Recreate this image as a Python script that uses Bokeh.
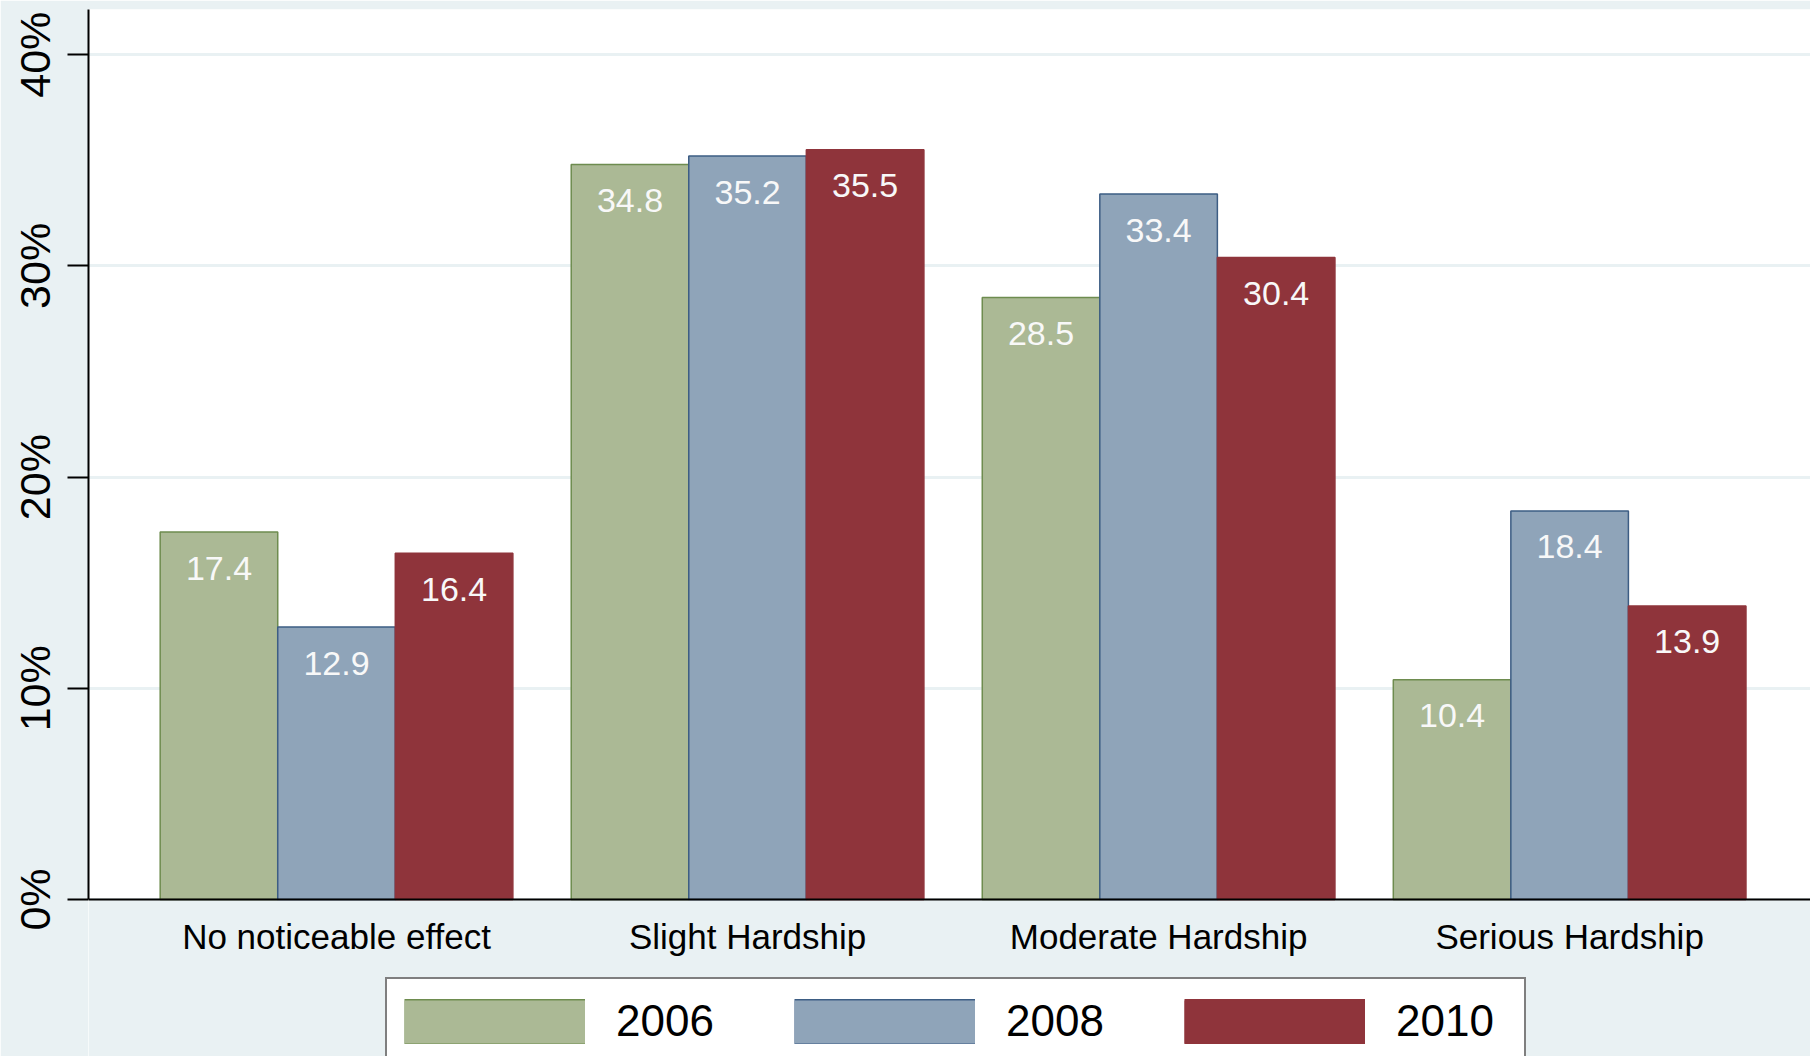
from bokeh.plotting import figure
from bokeh.models import (Range1d, FixedTicker, ColumnDataSource, Legend, LegendItem,
                          BoxAnnotation, Span)
from bokeh.core.properties import value
from bokeh.embed import file_html
from bokeh.resources import INLINE

categories = ["No noticeable effect", "Slight Hardship", "Moderate Hardship", "Serious Hardship"]
years = ["2006", "2008", "2010"]
v2006 = [17.4, 34.8, 28.5, 10.4]
v2008 = [12.9, 35.2, 33.4, 18.4]
v2010 = [16.4, 35.5, 30.4, 13.9]
y_ticks = [0, 10, 20, 30, 40]

fills = ["#abb995", "#8fa4b9", "#8f343b"]
lines = ["#6e8c4f", "#3d5d84", "#8f343b"]
series = [v2006, v2008, v2010]

BG = "#e9f1f3"
FONT = "Liberation Sans"
YMAX = 42.14
YMIN = -7.434

p = figure(width=1810, height=1056, output_backend="svg", toolbar_location=None,
           x_range=Range1d(-0.6034, 3.586), y_range=Range1d(YMIN, YMAX),
           min_border_left=88, min_border_top=9, min_border_bottom=0, min_border_right=0)
p.background_fill_color = "white"
p.border_fill_color = BG
p.outline_line_color = None

# grey area below the zero line (outside the plot region of the original)
p.add_layout(BoxAnnotation(top=0, fill_color=BG, fill_alpha=1.0, line_color=None, level="underlay"))

bw = 0.286
offsets = [-bw, 0.0, bw]
legend_items = []
for vals, off, fc, lc, yr in zip(series, offsets, fills, lines, years):
    xs = [i + off for i in range(len(categories))]
    src = ColumnDataSource(dict(x=xs, top=vals, lab=["%.1f" % v for v in vals]))
    p.vbar(x="x", top="top", width=bw, bottom=0, source=src,
           fill_color=fc, line_color=lc, line_width=1.5)
    p.text(x="x", y="top", text="lab", source=src, text_color="#f8f8f8",
           text_font=value(FONT), text_font_size="34px", text_align="center",
           text_baseline="middle", y_offset=36)
    # legend swatches: single-point line renderers (draw nothing in the plot),
    # shown in the legend as thick bands
    one = ColumnDataSource(dict(x=[xs[0]], y=[0]))
    edge = p.line(x="x", y="y", source=one, line_color=lc, line_width=46, line_cap="butt")
    body = p.line(x="x", y="y", source=one, line_color=fc, line_width=43, line_cap="butt")
    legend_items.append(LegendItem(label=yr, renderers=[edge, body]))

# category labels under the zero line
csrc = ColumnDataSource(dict(x=list(range(len(categories))), y=[0] * len(categories), t=categories))
p.text(x="x", y="y", text="t", source=csrc, text_color="black",
       text_font=value(FONT), text_font_size="35px", text_align="center",
       text_baseline="middle", y_offset=37)

p.add_layout(Span(location=0, dimension="width", line_color="black", line_width=2))

p.xaxis.visible = False
p.xgrid.grid_line_color = None

p.yaxis.bounds = (0, YMAX)
p.yaxis.ticker = FixedTicker(ticks=y_ticks)
p.yaxis.major_label_overrides = {t: "%d%%" % t for t in y_ticks}
p.yaxis.major_label_orientation = "parallel"
p.yaxis.major_tick_out = 21
p.yaxis.major_tick_in = 0
p.yaxis.minor_tick_out = 0
p.yaxis.minor_tick_in = 0
p.yaxis.major_tick_line_color = "black"
p.yaxis.major_tick_line_width = 2
p.yaxis.major_label_text_font = FONT
p.yaxis.major_label_text_font_size = "43px"
p.yaxis.major_label_text_color = "black"
p.yaxis.major_label_standoff = 8
p.yaxis.axis_line_color = "black"
p.yaxis.axis_line_width = 2

p.ygrid.grid_line_color = BG
p.ygrid.grid_line_width = 3

legend = Legend(items=legend_items,
                orientation="horizontal", location=(297, -9),
                glyph_width=181, glyph_height=45, label_standoff=31, label_width=111,
                spacing=67, padding=17, margin=0,
                label_text_font=FONT, label_text_font_size="44px", label_text_color="black",
                border_line_color="black", border_line_width=2,
                background_fill_color="white", background_fill_alpha=1.0)
p.add_layout(legend, "center")

open("out.html", "w").write(file_html(p, INLINE))
